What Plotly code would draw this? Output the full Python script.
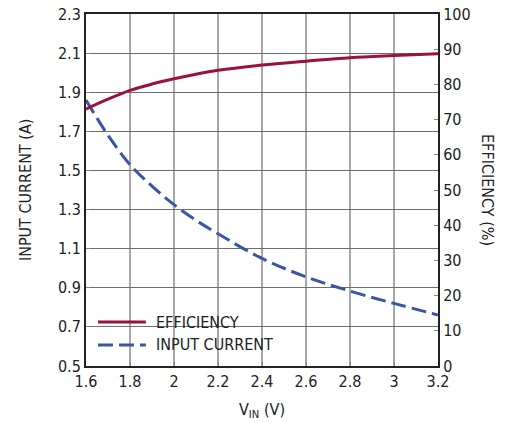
import plotly.graph_objects as go

# V_IN sweep (V)
vin = [1.6, 1.7, 1.8, 1.9, 2.0, 2.1, 2.2, 2.4, 2.6, 2.8, 3.0, 3.2]
# efficiency (%) - right axis
efficiency = [73.0, 75.8, 78.3, 80.1, 81.6, 82.9, 84.0, 85.5, 86.6, 87.6, 88.2, 88.7]
# input current (A) - left axis
input_current = [1.86, 1.68, 1.53, 1.42, 1.325, 1.245, 1.176, 1.05, 0.956, 0.883, 0.82, 0.761]
series_names = ["EFFICIENCY", "INPUT CURRENT"]

RED = "#9b1238"
BLUE = "#3a55a6"
DASH = "15px,6px"
FONT = "Liberation Sans Narrow, Arial Narrow, DejaVu Sans Condensed, sans-serif"

fig = go.Figure()
fig.add_trace(go.Scatter(x=vin, y=efficiency, name=series_names[0], yaxis="y2",
                         mode="lines", line=dict(color=RED, width=3, shape="spline")))
fig.add_trace(go.Scatter(x=vin, y=input_current, name=series_names[1], yaxis="y",
                         mode="lines", line=dict(color=BLUE, width=3, shape="spline", dash=DASH)))

# white box behind the legend hides the grid
fig.add_shape(type="rect", xref="paper", yref="paper", x0=0, x1=0.578, y0=0, y1=0.167,
              fillcolor="white", line_width=0, layer="between")

# hand drawn legend
legend_y = [0.125, 0.06]
for name, col, dash, ly in zip(series_names, [RED, BLUE], ["solid", DASH], legend_y):
    fig.add_shape(type="line", xref="paper", yref="paper", x0=0.034, x1=0.170, y0=ly, y1=ly,
                  line=dict(color=col, width=3, dash=dash))
    fig.add_annotation(text=name, xref="paper", yref="paper", x=0.193, y=ly,
                       xanchor="left", yanchor="middle", showarrow=False)

fig.update_layout(
    width=515, height=422,
    margin=dict(l=86, r=77, t=14, b=56),
    paper_bgcolor="white", plot_bgcolor="white",
    font=dict(family=FONT, size=16, color="#222"),
    showlegend=False,
    xaxis=dict(range=[1.6, 3.2], tick0=1.6, dtick=0.2, showgrid=True, gridcolor="#a8a8a8",
               gridwidth=1.8, showline=True, linecolor="#222", linewidth=2, mirror=True,
               ticks="inside", ticklen=4, tickcolor="#888", zeroline=False, automargin=False),
    yaxis=dict(range=[0.5, 2.3], tick0=0.5, dtick=0.2, showgrid=True, gridcolor="#6e6e6e",
               gridwidth=1.2, showline=True, linecolor="#222", linewidth=2,
               ticks="inside", ticklen=4, tickcolor="#888", zeroline=False,
               tickformat=".1f", automargin=False),
    yaxis2=dict(range=[0, 100], dtick=10, overlaying="y", side="right", showgrid=False,
                showline=True, linecolor="#222", linewidth=2, ticks="inside", ticklen=4,
                tickcolor="#888", zeroline=False, automargin=False),
)

fig.add_annotation(text="INPUT CURRENT (A)", xref="paper", yref="paper", x=-0.173, y=0.5,
                   xanchor="center", yanchor="middle", textangle=-90, showarrow=False)
fig.add_annotation(text="EFFICIENCY (%)", xref="paper", yref="paper", x=1.142, y=0.5,
                   xanchor="center", yanchor="middle", textangle=90, showarrow=False)
fig.add_annotation(text="V<sub>IN</sub> (V)", xref="paper", yref="paper", x=0.5, y=-0.125,
                   xanchor="center", yanchor="middle", showarrow=False)

fig.write_html("out.html", config={"displayModeBar": False},
               post_script="document.body.style.margin='0';")
